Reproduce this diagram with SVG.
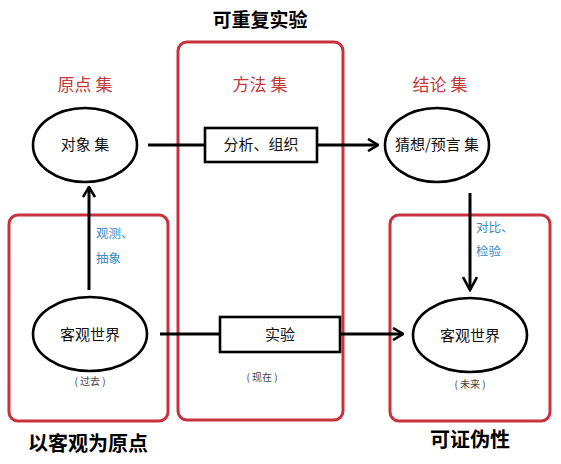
<svg xmlns="http://www.w3.org/2000/svg" width="561" height="464" viewBox="0 0 561 464">
<defs>
<marker id="arr" viewBox="0 0 12 14" refX="11" refY="7" markerWidth="12" markerHeight="14" markerUnits="userSpaceOnUse" orient="auto">
<path d="M1,1 L11,7 L1,13" fill="none" stroke="#000" stroke-width="2.6"/>
</marker>
<marker id="arrB" viewBox="0 0 16 16" refX="14" refY="8" markerWidth="16" markerHeight="16" markerUnits="userSpaceOnUse" orient="auto">
<path d="M1,1 L14,8 L1,15" fill="none" stroke="#000" stroke-width="2.6"/>
</marker>
</defs>
<style>
text{font-family:"Noto Sans CJK SC","Noto Sans",sans-serif;}
.red{fill:none;stroke:#c8323c;stroke-width:3;}
.hd{fill:#c0393b;font-size:17px;text-anchor:middle;}
.nd{fill:#fff;stroke:#000;stroke-width:2.6;}
.nt{fill:#111;font-size:15px;text-anchor:middle;}
.bl{fill:#3d8cc4;font-size:12.5px;}
.sm{fill:#444;font-size:10px;text-anchor:middle;}
.bd{fill:#000;font-weight:bold;}
.ln{fill:none;stroke:#000;stroke-width:3;}
</style>
<rect width="561" height="464" fill="#fff"/>
<g id="regions">
<rect class="red" x="178" y="42" width="165" height="378" rx="9"/>
<rect class="red" x="9" y="215" width="159" height="206" rx="9"/>
<rect class="red" x="390" y="215" width="160" height="206" rx="9"/>
</g>
<text class="bd" x="260" y="27" text-anchor="middle" font-size="19">可重复实验</text>
<text class="hd" x="85" y="91">原点 集</text>
<text class="hd" x="260" y="91">方法 集</text>
<text class="hd" x="440" y="91">结论 集</text>
<g id="connectors">
<line class="ln" x1="148" y1="145" x2="205" y2="145"/>
<line class="ln" x1="317" y1="145" x2="378" y2="145" marker-end="url(#arr)"/>
<line class="ln" x1="89" y1="290" x2="89" y2="187" marker-end="url(#arr)"/>
<line class="ln" x1="470" y1="193" x2="470" y2="290" marker-end="url(#arrB)"/>
<line class="ln" x1="160" y1="334" x2="220" y2="334"/>
<line class="ln" x1="340" y1="334" x2="403" y2="334" marker-end="url(#arr)"/>
</g>
<g id="n_object"><ellipse class="nd" cx="85" cy="145" rx="52" ry="37"/><text class="nt" x="85" y="150">对象 集</text></g>
<g id="n_method"><rect class="nd" x="205" y="128" width="112" height="34"/><text class="nt" x="261" y="150">分析、组织</text></g>
<g id="n_conj"><ellipse class="nd" cx="437" cy="145" rx="52" ry="37"/><text class="nt" x="437" y="150" font-size="14.5">猜想/预言 集</text></g>
<g id="n_past"><ellipse class="nd" cx="90" cy="334" rx="57" ry="37"/><text class="nt" x="90" y="340">客观世界</text><text class="sm" x="90" y="385">( 过去 )</text></g>
<g id="n_exp"><rect class="nd" x="220" y="317" width="120" height="35"/><text class="nt" x="280" y="340">实验</text><text class="sm" x="262" y="381">( 现在 )</text></g>
<g id="n_future"><ellipse class="nd" cx="470" cy="335" rx="57" ry="37"/><text class="nt" x="470" y="341">客观世界</text><text class="sm" x="470" y="388">( 未来 )</text></g>
<text class="bl" x="96" y="238">观测、</text>
<text class="bl" x="96" y="263">抽象</text>
<text class="bl" x="476" y="232">对比、</text>
<text class="bl" x="476" y="256">检验</text>
<text class="bd" x="28" y="451" font-size="20">以客观为原点</text>
<text class="bd" x="470" y="447" text-anchor="middle" font-size="20">可证伪性</text>
</svg>
